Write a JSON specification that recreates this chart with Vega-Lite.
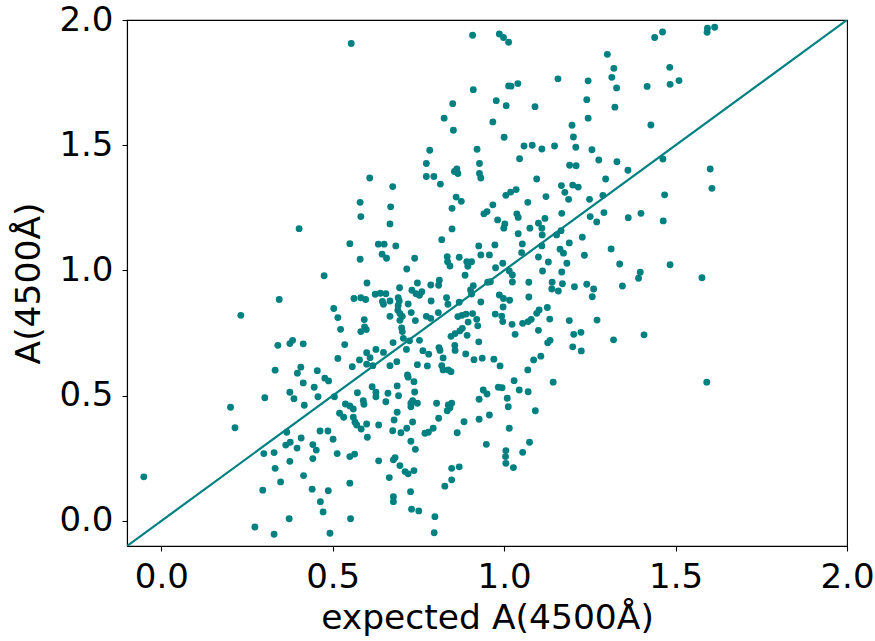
{
  "$schema": "https://vega.github.io/schema/vega-lite/v6.json",
  "autosize": {"type": "none"},
  "padding": {"left": 127, "top": 20, "right": 28, "bottom": 95},
  "width": 720,
  "height": 526,
  "background": "white",
  "config": {
    "view": {"stroke": "black", "strokeWidth": 1.1},
    "font": "DejaVu Sans",
    "axis": {
      "domainColor": "black", "domainWidth": 1.1,
      "tickColor": "black", "tickWidth": 1.1, "tickSize": 5,
      "labelFont": "DejaVu Sans", "labelFontSize": 34, "labelColor": "black",
      "titleFont": "DejaVu Sans", "titleFontSize": 34.5, "titleFontWeight": "normal", "titleColor": "black",
      "grid": false, "labelFlush": false, "labelOverlap": false
    }
  },
  "datasets": {
    "pts": [
      {"x":0.554,"y":1.906},{"x":0.908,"y":1.939},{"x":0.986,"y":1.944},{"x":0.998,"y":1.930},{"x":1.013,"y":1.911},
      {"x":0.910,"y":1.722},{"x":1.013,"y":1.737},{"x":1.020,"y":1.736},{"x":1.040,"y":1.746},{"x":0.850,"y":1.666},
      {"x":0.977,"y":1.678},{"x":1.006,"y":1.658},{"x":1.090,"y":1.654},{"x":0.825,"y":1.608},{"x":0.967,"y":1.593},
      {"x":0.852,"y":1.560},{"x":1.000,"y":1.532},{"x":1.058,"y":1.497},{"x":1.082,"y":1.500},{"x":1.110,"y":1.485},
      {"x":0.783,"y":1.480},{"x":0.921,"y":1.484},{"x":1.045,"y":1.446},{"x":0.773,"y":1.427},{"x":0.928,"y":1.427},
      {"x":0.608,"y":1.369},{"x":0.675,"y":1.335},{"x":0.773,"y":1.375},{"x":0.795,"y":1.375},{"x":0.814,"y":1.345},
      {"x":0.855,"y":1.395},{"x":0.862,"y":1.405},{"x":0.865,"y":1.387},{"x":0.928,"y":1.387},{"x":0.932,"y":1.369},
      {"x":1.095,"y":1.365},{"x":1.005,"y":1.300},{"x":1.019,"y":1.313},{"x":1.035,"y":1.323},{"x":0.860,"y":1.293},
      {"x":0.875,"y":1.276},{"x":1.593,"y":1.967},{"x":1.592,"y":1.951},{"x":1.614,"y":1.971},{"x":1.462,"y":1.952},
      {"x":1.439,"y":1.930},{"x":1.301,"y":1.863},{"x":1.320,"y":1.807},{"x":1.483,"y":1.811},{"x":1.314,"y":1.771},
      {"x":1.157,"y":1.765},{"x":1.245,"y":1.757},{"x":1.328,"y":1.729},{"x":1.417,"y":1.735},{"x":1.484,"y":1.743},
      {"x":1.510,"y":1.758},{"x":1.241,"y":1.682},{"x":1.323,"y":1.652},{"x":1.245,"y":1.608},{"x":1.428,"y":1.581},
      {"x":1.198,"y":1.580},{"x":1.202,"y":1.533},{"x":1.147,"y":1.497},{"x":1.209,"y":1.492},{"x":1.256,"y":1.482},
      {"x":1.276,"y":1.441},{"x":1.329,"y":1.434},{"x":1.463,"y":1.445},{"x":1.191,"y":1.420},{"x":1.210,"y":1.418},
      {"x":1.361,"y":1.400},{"x":1.601,"y":1.405},{"x":1.296,"y":1.365},{"x":1.167,"y":1.339},{"x":1.200,"y":1.341},
      {"x":1.216,"y":1.333},{"x":1.177,"y":1.312},{"x":1.606,"y":1.328},{"x":1.122,"y":1.295},{"x":1.188,"y":1.284},
      {"x":1.249,"y":1.284},{"x":1.288,"y":1.300},{"x":1.468,"y":1.302},
      {"x":1.168,"y":1.228},{"x":1.119,"y":1.208},{"x":1.251,"y":1.215},{"x":1.270,"y":1.194},{"x":1.291,"y":1.231},
      {"x":1.362,"y":1.211},{"x":1.399,"y":1.228},{"x":1.464,"y":1.198},{"x":1.100,"y":1.189},{"x":1.110,"y":1.169},
      {"x":1.111,"y":1.142},{"x":1.153,"y":1.142},{"x":1.166,"y":1.159},{"x":1.228,"y":1.133},{"x":1.190,"y":1.110},
      {"x":1.110,"y":1.098},{"x":1.163,"y":1.085},{"x":1.173,"y":1.069},{"x":1.312,"y":1.086},{"x":1.100,"y":1.054},
      {"x":1.234,"y":1.061},{"x":1.129,"y":1.034},{"x":1.183,"y":1.029},{"x":1.337,"y":1.026},{"x":1.484,"y":1.023},
      {"x":1.112,"y":0.998},{"x":1.168,"y":0.994},{"x":1.397,"y":0.993},{"x":1.392,"y":0.969},{"x":1.577,"y":0.971},
      {"x":1.140,"y":0.953},{"x":1.139,"y":0.926},{"x":1.158,"y":0.918},{"x":1.170,"y":0.947},{"x":1.205,"y":0.935},
      {"x":1.241,"y":0.945},{"x":1.261,"y":0.926},{"x":1.257,"y":0.895},{"x":1.345,"y":0.938},{"x":1.126,"y":0.852},
      {"x":1.102,"y":0.842},{"x":1.095,"y":0.829},{"x":1.133,"y":0.806},{"x":1.190,"y":0.800},{"x":1.271,"y":0.802},
      {"x":1.100,"y":0.761},{"x":1.203,"y":0.745},{"x":1.224,"y":0.753},{"x":1.319,"y":0.723},{"x":1.408,"y":0.743},
      {"x":1.134,"y":0.721},{"x":1.127,"y":0.711},{"x":1.200,"y":0.695},{"x":1.225,"y":0.679},{"x":1.107,"y":0.658},
      {"x":1.086,"y":0.643},
      {"x":0.402,"y":1.167},{"x":0.475,"y":0.979},{"x":0.344,"y":0.884},{"x":0.232,"y":0.821},{"x":0.503,"y":0.848},
      {"x":0.515,"y":0.812},{"x":0.523,"y":0.765},{"x":0.535,"y":0.704},{"x":0.340,"y":0.701},{"x":0.375,"y":0.708},
      {"x":0.383,"y":0.721},{"x":0.414,"y":0.707},{"x":0.515,"y":0.649},{"x":0.332,"y":0.602},{"x":0.407,"y":0.614},
      {"x":0.397,"y":0.590},{"x":0.455,"y":0.600},
      {"x":0.580,"y":1.272},{"x":0.669,"y":1.254},{"x":0.582,"y":1.215},{"x":0.667,"y":1.186},{"x":0.848,"y":1.248},
      {"x":0.967,"y":1.262},{"x":0.941,"y":1.226},{"x":0.950,"y":1.235},{"x":0.981,"y":1.202},{"x":1.037,"y":1.226},
      {"x":1.041,"y":1.212},{"x":1.069,"y":1.272},{"x":1.002,"y":1.186},{"x":0.999,"y":1.169},{"x":0.848,"y":1.166},
      {"x":1.041,"y":1.147},{"x":1.075,"y":1.169},{"x":0.550,"y":1.107},{"x":0.633,"y":1.105},{"x":0.650,"y":1.105},
      {"x":0.684,"y":1.098},{"x":0.818,"y":1.123},{"x":0.926,"y":1.098},{"x":0.973,"y":1.102},{"x":1.053,"y":1.106},
      {"x":0.580,"y":1.045},{"x":0.644,"y":1.065},{"x":0.657,"y":1.049},{"x":0.739,"y":1.049},{"x":0.834,"y":1.055},
      {"x":0.835,"y":1.035},{"x":0.842,"y":1.018},{"x":0.869,"y":1.053},{"x":0.891,"y":1.035},{"x":0.905,"y":1.035},
      {"x":0.894,"y":1.017},{"x":0.932,"y":1.062},{"x":0.957,"y":1.062},{"x":1.051,"y":1.071},{"x":0.716,"y":1.006},
      {"x":0.886,"y":0.981},{"x":0.975,"y":1.011},{"x":0.996,"y":1.029},{"x":1.015,"y":0.998},{"x":1.024,"y":0.982},
      {"x":0.600,"y":0.950},{"x":0.695,"y":0.931},{"x":0.747,"y":0.950},{"x":0.786,"y":0.942},{"x":0.811,"y":0.961},
      {"x":0.809,"y":0.941},{"x":0.910,"y":0.939},{"x":0.952,"y":0.953},{"x":0.960,"y":0.955},{"x":1.024,"y":0.954},
      {"x":1.072,"y":0.953},{"x":0.562,"y":0.888},{"x":0.582,"y":0.891},{"x":0.596,"y":0.884},{"x":0.624,"y":0.905},
      {"x":0.639,"y":0.909},{"x":0.655,"y":0.907},{"x":0.645,"y":0.876},{"x":0.648,"y":0.865},{"x":0.667,"y":0.878},
      {"x":0.691,"y":0.891},{"x":0.694,"y":0.878},{"x":0.691,"y":0.860},{"x":0.731,"y":0.921},{"x":0.743,"y":0.907},
      {"x":0.753,"y":0.901},{"x":0.760,"y":0.915},{"x":0.720,"y":0.866},{"x":0.787,"y":0.878},{"x":0.832,"y":0.891},
      {"x":0.836,"y":0.865},{"x":0.869,"y":0.873},{"x":0.902,"y":0.922},{"x":0.905,"y":0.906},{"x":0.932,"y":0.874},
      {"x":0.986,"y":0.902},{"x":0.998,"y":0.888},{"x":1.016,"y":0.881},{"x":0.997,"y":0.854},{"x":1.072,"y":0.894},
      {"x":0.690,"y":0.841},{"x":0.696,"y":0.828},{"x":0.667,"y":0.817},{"x":0.703,"y":0.817},{"x":0.729,"y":0.832},
      {"x":0.773,"y":0.817},{"x":0.786,"y":0.809},{"x":0.808,"y":0.832},{"x":0.865,"y":0.816},{"x":0.877,"y":0.821},
      {"x":0.889,"y":0.826},{"x":0.908,"y":0.828},{"x":0.895,"y":0.794},{"x":0.920,"y":0.805},{"x":0.923,"y":0.779},
      {"x":0.974,"y":0.826},{"x":0.993,"y":0.818},{"x":0.996,"y":0.796},{"x":1.023,"y":0.785},{"x":1.054,"y":0.789},
      {"x":1.070,"y":0.796},{"x":1.079,"y":0.805},{"x":0.592,"y":0.804},{"x":0.696,"y":0.801},{"x":0.701,"y":0.771},
      {"x":0.703,"y":0.756},{"x":0.741,"y":0.800},{"x":0.582,"y":0.756},{"x":0.598,"y":0.764},{"x":0.593,"y":0.775},
      {"x":0.845,"y":0.737},{"x":0.857,"y":0.748},{"x":0.871,"y":0.759},{"x":0.878,"y":0.769},{"x":0.892,"y":0.741},
      {"x":1.032,"y":0.745},{"x":0.676,"y":0.712},{"x":0.706,"y":0.729},{"x":0.724,"y":0.719},{"x":0.753,"y":0.721},
      {"x":0.856,"y":0.701},{"x":0.857,"y":0.681},{"x":0.926,"y":0.715},{"x":0.599,"y":0.672},{"x":0.609,"y":0.652},
      {"x":0.626,"y":0.685},{"x":0.648,"y":0.673},{"x":0.715,"y":0.685},{"x":0.763,"y":0.680},{"x":0.780,"y":0.666},
      {"x":0.810,"y":0.692},{"x":0.813,"y":0.681},{"x":0.822,"y":0.651},{"x":0.888,"y":0.667},{"x":0.912,"y":0.644},
      {"x":0.936,"y":0.650},{"x":0.970,"y":0.646},{"x":0.988,"y":0.619},{"x":0.557,"y":0.616},{"x":0.578,"y":0.643},
      {"x":0.599,"y":0.626},{"x":0.617,"y":0.620},{"x":0.667,"y":0.620},{"x":0.687,"y":0.636},{"x":0.747,"y":0.624},
      {"x":0.776,"y":0.619},{"x":0.818,"y":0.620},{"x":0.822,"y":0.603},{"x":0.837,"y":0.603},{"x":0.845,"y":0.596},
      {"x":1.069,"y":0.603},{"x":0.718,"y":0.583},
      {"x":0.477,"y":0.570},{"x":0.488,"y":0.559},{"x":0.414,"y":0.551},{"x":0.446,"y":0.534},{"x":0.302,"y":0.492},
      {"x":0.375,"y":0.514},{"x":0.387,"y":0.488},{"x":0.457,"y":0.496},{"x":0.505,"y":0.496},{"x":0.202,"y":0.454},
      {"x":0.417,"y":0.462},{"x":0.537,"y":0.467},{"x":0.520,"y":0.430},{"x":0.532,"y":0.414},{"x":0.215,"y":0.372},
      {"x":0.366,"y":0.354},{"x":0.463,"y":0.359},{"x":0.486,"y":0.359},{"x":0.408,"y":0.331},{"x":0.501,"y":0.326},
      {"x":0.363,"y":0.303},{"x":0.376,"y":0.314},{"x":0.396,"y":0.291},{"x":0.442,"y":0.305},{"x":0.452,"y":0.283},
      {"x":0.299,"y":0.269},{"x":0.329,"y":0.273},{"x":0.513,"y":0.269},{"x":0.442,"y":0.249},{"x":0.375,"y":0.238},
      {"x":0.332,"y":0.210},{"x":-0.051,"y":0.176},{"x":0.415,"y":0.181},{"x":0.348,"y":0.156},{"x":0.296,"y":0.123},
      {"x":0.440,"y":0.127},{"x":0.487,"y":0.121},{"x":0.464,"y":0.077},{"x":0.472,"y":0.036},{"x":0.373,"y":0.009},
      {"x":0.273,"y":-0.024},{"x":0.329,"y":-0.053},{"x":0.492,"y":-0.049},
      {"x":0.720,"y":0.574},{"x":0.737,"y":0.556},{"x":0.615,"y":0.536},{"x":0.626,"y":0.514},{"x":0.626,"y":0.496},
      {"x":0.572,"y":0.512},{"x":0.661,"y":0.510},{"x":0.688,"y":0.539},{"x":0.692,"y":0.500},{"x":0.739,"y":0.515},
      {"x":0.655,"y":0.476},{"x":0.589,"y":0.480},{"x":0.591,"y":0.466},{"x":0.550,"y":0.459},{"x":0.560,"y":0.447},
      {"x":0.728,"y":0.470},{"x":0.733,"y":0.480},{"x":0.747,"y":0.470},{"x":0.728,"y":0.456},{"x":0.803,"y":0.470},
      {"x":0.837,"y":0.463},{"x":0.847,"y":0.470},{"x":0.834,"y":0.440},{"x":0.842,"y":0.452},{"x":0.688,"y":0.434},
      {"x":0.560,"y":0.414},{"x":0.565,"y":0.394},{"x":0.570,"y":0.383},{"x":0.599,"y":0.387},{"x":0.583,"y":0.367},
      {"x":0.634,"y":0.383},{"x":0.679,"y":0.403},{"x":0.733,"y":0.395},{"x":0.809,"y":0.410},{"x":0.883,"y":0.396},
      {"x":0.675,"y":0.360},{"x":0.699,"y":0.352},{"x":0.716,"y":0.370},{"x":0.601,"y":0.334},{"x":0.769,"y":0.350},
      {"x":0.779,"y":0.354},{"x":0.793,"y":0.370},{"x":0.863,"y":0.352},{"x":0.728,"y":0.318},{"x":0.741,"y":0.286},
      {"x":0.550,"y":0.257},{"x":0.564,"y":0.267},{"x":0.634,"y":0.240},{"x":0.677,"y":0.244},{"x":0.682,"y":0.253},
      {"x":0.696,"y":0.221},{"x":0.711,"y":0.197},{"x":0.720,"y":0.188},{"x":0.737,"y":0.201},{"x":0.665,"y":0.173},
      {"x":0.847,"y":0.210},{"x":0.869,"y":0.216},{"x":0.847,"y":0.164},{"x":0.827,"y":0.139},{"x":0.550,"y":0.151},
      {"x":0.727,"y":0.117},{"x":0.677,"y":0.097},{"x":0.677,"y":0.077},{"x":0.730,"y":0.047},{"x":0.751,"y":0.040},
      {"x":0.552,"y":0.009},{"x":0.798,"y":0.017},{"x":0.796,"y":-0.047},
      {"x":0.927,"y":0.486},{"x":0.939,"y":0.523},{"x":0.950,"y":0.507},{"x":0.983,"y":0.534},{"x":0.994,"y":0.532},
      {"x":1.009,"y":0.490},{"x":1.012,"y":0.456},{"x":1.029,"y":0.560},{"x":1.044,"y":0.523},{"x":1.070,"y":0.516},
      {"x":1.091,"y":0.440},{"x":0.957,"y":0.423},{"x":0.927,"y":0.406},{"x":1.015,"y":0.370},{"x":0.948,"y":0.306},
      {"x":1.074,"y":0.314},{"x":1.005,"y":0.281},{"x":1.004,"y":0.257},{"x":1.005,"y":0.230},{"x":1.054,"y":0.274},
      {"x":1.027,"y":0.213},{"x":1.143,"y":0.554},{"x":1.591,"y":0.554}
    ],
    "diag": [{"x": -0.1, "y": -0.1}, {"x": 2.0, "y": 2.0}]
  },
  "layer": [
    {
      "data": {"name": "pts"},
      "mark": {"type": "circle", "size": 47, "color": "#008080", "opacity": 1},
      "encoding": {
        "x": {
          "field": "x", "type": "quantitative",
          "scale": {"domain": [-0.1, 2.0], "nice": false, "zero": false},
          "axis": {"values": [0, 0.5, 1, 1.5, 2], "format": ".1f", "title": "expected A(4500Å)", "labelPadding": 9, "titlePadding": 7}
        },
        "y": {
          "field": "y", "type": "quantitative",
          "scale": {"domain": [-0.1, 2.0], "nice": false, "zero": false},
          "axis": {"values": [0, 0.5, 1, 1.5, 2], "format": ".1f", "title": "A(4500Å)", "labelPadding": 9, "titlePadding": 12}
        }
      }
    },
    {
      "data": {"name": "diag"},
      "mark": {"type": "line", "color": "#008080", "strokeWidth": 2.2, "clip": true},
      "encoding": {
        "x": {"field": "x", "type": "quantitative"},
        "y": {"field": "y", "type": "quantitative"}
      }
    }
  ]
}
